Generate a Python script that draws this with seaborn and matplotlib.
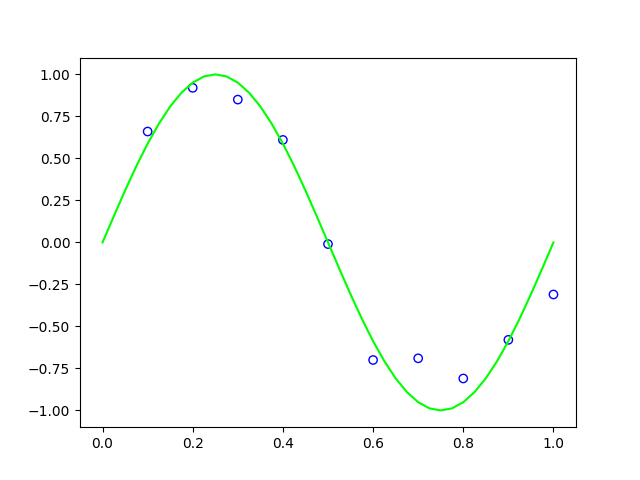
import matplotlib
matplotlib.use("Agg")
import matplotlib.pyplot as plt
import seaborn as sns

# noisy samples
x_points = [0.1, 0.2, 0.3, 0.4, 0.5, 0.6, 0.7, 0.8, 0.9, 1.0]
y_points = [0.66, 0.92, 0.85, 0.61, -0.01, -0.70, -0.69, -0.81, -0.58, -0.31]

# green curve, every 0.025
x_curve = [0.0, 0.025, 0.05, 0.075, 0.1, 0.125, 0.15, 0.175, 0.2, 0.225,
           0.25, 0.275, 0.3, 0.325, 0.35, 0.375, 0.4, 0.425, 0.45, 0.475,
           0.5, 0.525, 0.55, 0.575, 0.6, 0.625, 0.65, 0.675, 0.7, 0.725,
           0.75, 0.775, 0.8, 0.825, 0.85, 0.875, 0.9, 0.925, 0.95, 0.975, 1.0]
y_curve = [0.0, 0.156, 0.309, 0.454, 0.588, 0.707, 0.809, 0.891, 0.951, 0.988,
           1.0, 0.988, 0.951, 0.891, 0.809, 0.707, 0.588, 0.454, 0.309, 0.156,
           0.0, -0.156, -0.309, -0.454, -0.588, -0.707, -0.809, -0.891, -0.951, -0.988,
           -1.0, -0.988, -0.951, -0.891, -0.809, -0.707, -0.588, -0.454, -0.309, -0.156, 0.0]

fig, ax = plt.subplots(figsize=(6.4, 4.8), dpi=100)
sns.lineplot(x=x_curve, y=y_curve, color="lime", linewidth=1.5, ax=ax)
sns.scatterplot(x=x_points, y=y_points, s=36, facecolors="none",
                edgecolor="b", linewidth=1, ax=ax)
fig.savefig("out.png")
